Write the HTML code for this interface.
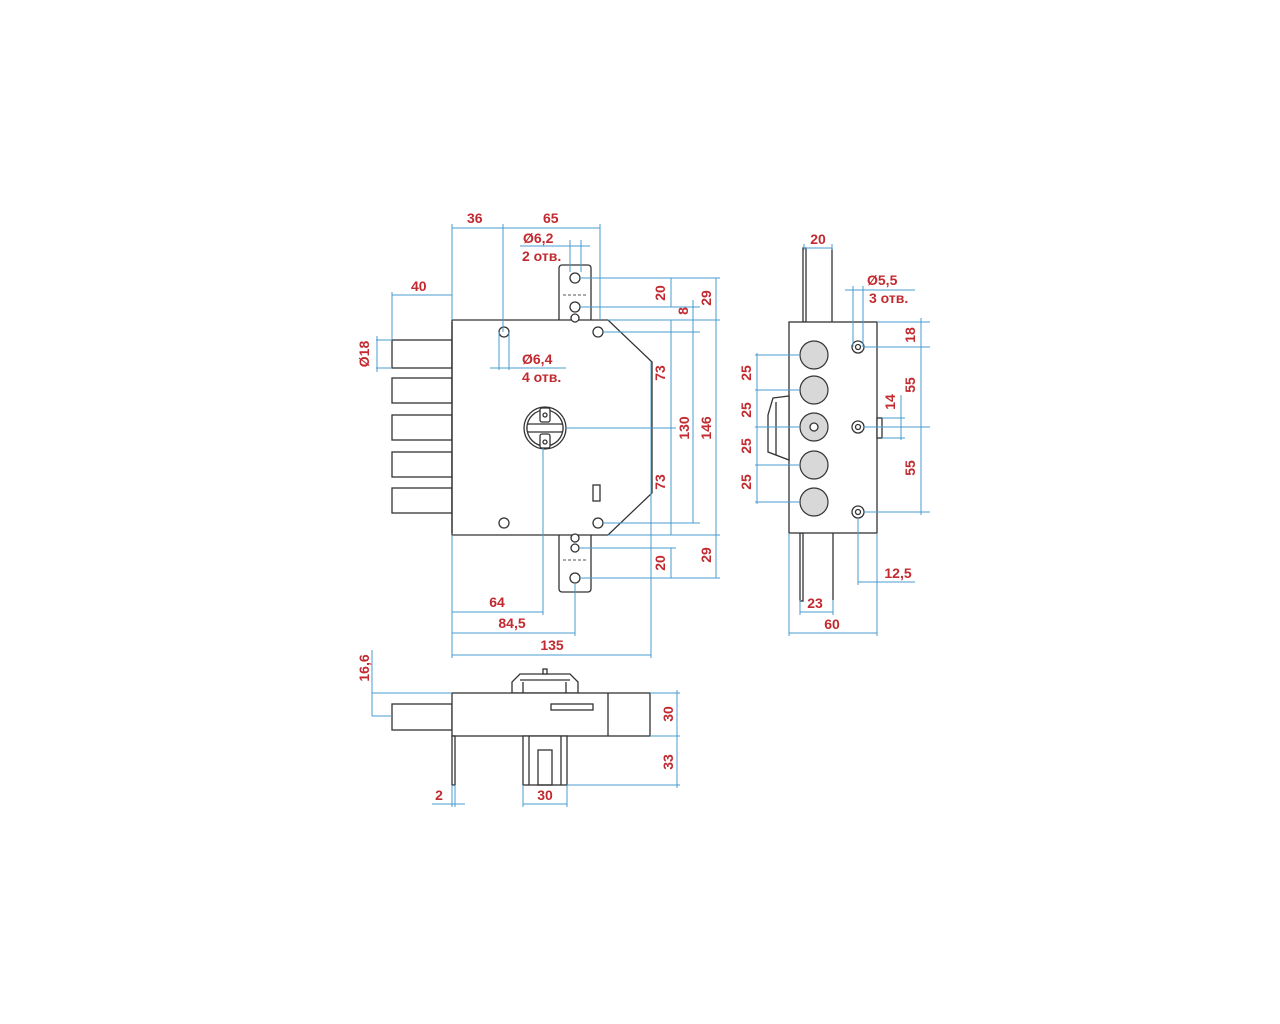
<!DOCTYPE html>
<html><head><meta charset="utf-8"><style>
html,body{margin:0;padding:0;background:#fff;}
svg{display:block}
text{font-family:"Liberation Sans",sans-serif;font-weight:bold;font-size:14px;fill:#c22a30;}
.b{stroke:#4a9bd0;stroke-width:1;fill:none}
.k{stroke:#333;stroke-width:1.3;fill:#fff}
.kn{stroke:#333;stroke-width:1.3;fill:none}
.g{stroke:#333;stroke-width:1.2;fill:#d8d8d8}
</style></head><body>
<svg width="1280" height="1024" viewBox="0 0 1280 1024" xmlns="http://www.w3.org/2000/svg">
<!-- MAIN VIEW -->
<!-- bolts -->
<rect class="k" x="392" y="340" width="60" height="28"/>
<rect class="k" x="392" y="378" width="60" height="25"/>
<rect class="k" x="392" y="415" width="60" height="25"/>
<rect class="k" x="392" y="452" width="60" height="25"/>
<rect class="k" x="392" y="488" width="60" height="25"/>
<!-- plates -->
<rect class="k" x="559" y="265" width="32" height="60" rx="3"/>
<rect class="k" x="559" y="530" width="32" height="62" rx="3"/>
<!-- body -->
<polygon class="k" points="452,320 608,320 652,362 652,493 608,535 452,535"/>
<line class="kn" x1="452" y1="322" x2="452" y2="533" stroke-width="2.5"/>
<circle class="k" cx="575" cy="278" r="5"/>
<circle class="k" cx="575" cy="307" r="5"/>
<circle class="k" cx="575" cy="318" r="4"/>
<line x1="563" y1="295" x2="588" y2="295" stroke="#555" stroke-dasharray="3,2"/>
<circle class="k" cx="575" cy="578" r="5"/>
<circle class="k" cx="575" cy="548" r="4" stroke="#4a9bd0"/>
<circle class="k" cx="575" cy="538" r="4"/>
<line x1="563" y1="560" x2="588" y2="560" stroke="#555" stroke-dasharray="3,2"/>
<circle class="k" cx="504" cy="332" r="5"/>
<circle class="k" cx="598" cy="332" r="5"/>
<circle class="k" cx="504" cy="523" r="5"/>
<circle class="k" cx="598" cy="523" r="5"/>
<rect class="k" x="593" y="485" width="7" height="16"/>
<!-- cylinder -->
<circle class="k" cx="545" cy="428" r="21"/>
<circle class="kn" cx="545" cy="428" r="18"/>
<rect class="k" x="527" y="424" width="36" height="8" rx="2"/>
<rect class="k" x="540" y="408" width="10" height="14" rx="2"/>
<rect class="k" x="540" y="434" width="10" height="14" rx="2"/>
<circle class="k" cx="545" cy="415" r="2"/>
<circle class="k" cx="545" cy="442" r="2"/>
<!-- main dims -->
<g class="b">
<line x1="452" y1="224" x2="452" y2="320"/><line x1="503" y1="224" x2="503" y2="332"/><line x1="600" y1="224" x2="600" y2="320"/>
<line x1="452" y1="228" x2="600" y2="228"/>
<line x1="520" y1="246" x2="590" y2="246"/><line x1="570" y1="240" x2="570" y2="272"/><line x1="581" y1="240" x2="581" y2="272"/>
<line x1="392" y1="295" x2="452" y2="295"/><line x1="392" y1="292" x2="392" y2="340"/>
<line x1="376" y1="340" x2="392" y2="340"/><line x1="376" y1="368" x2="392" y2="368"/><line x1="377" y1="336" x2="377" y2="372"/>
<line x1="490" y1="368" x2="566" y2="368"/><line x1="499" y1="332" x2="499" y2="370"/><line x1="509" y1="332" x2="509" y2="370"/>
<line x1="580" y1="278" x2="720" y2="278"/><line x1="580" y1="307" x2="700" y2="307"/>
<line x1="608" y1="320" x2="720" y2="320"/><line x1="603" y1="332" x2="700" y2="332"/>
<line x1="566" y1="428" x2="676" y2="428"/>
<line x1="603" y1="523" x2="700" y2="523"/><line x1="608" y1="535" x2="720" y2="535"/>
<line x1="580" y1="548" x2="676" y2="548"/><line x1="580" y1="578" x2="720" y2="578"/>
<line x1="671" y1="278" x2="671" y2="307"/><line x1="671" y1="320" x2="671" y2="535"/><line x1="671" y1="548" x2="671" y2="578"/>
<line x1="693" y1="300" x2="693" y2="523"/>
<line x1="716" y1="278" x2="716" y2="578"/>
<line x1="543" y1="448" x2="543" y2="615"/><line x1="575" y1="584" x2="575" y2="636"/><line x1="651" y1="362" x2="651" y2="658"/>
<line x1="452" y1="535" x2="452" y2="658"/>
<line x1="452" y1="612" x2="543" y2="612"/><line x1="452" y1="633" x2="575" y2="633"/><line x1="452" y1="655" x2="651" y2="655"/>
</g>
<text x="467" y="223">36</text><text x="543" y="223">65</text>
<text x="523" y="243">Ø6,2</text><text x="522" y="261" font-size="12">2 отв.</text>
<text x="411" y="291">40</text>
<text x="522" y="364">Ø6,4</text><text x="522" y="382" font-size="12">4 отв.</text>
<text x="497" y="607" text-anchor="middle">64</text>
<text x="512" y="628" text-anchor="middle">84,5</text>
<text x="552" y="650" text-anchor="middle">135</text>
<g>
<text transform="translate(369,354) rotate(-90)" text-anchor="middle">Ø18</text>
<text transform="translate(665,293) rotate(-90)" text-anchor="middle">20</text>
<text transform="translate(688,311) rotate(-90)" text-anchor="middle">8</text>
<text transform="translate(711,298) rotate(-90)" text-anchor="middle">29</text>
<text transform="translate(665,373) rotate(-90)" text-anchor="middle">73</text>
<text transform="translate(689,428) rotate(-90)" text-anchor="middle">130</text>
<text transform="translate(711,428) rotate(-90)" text-anchor="middle">146</text>
<text transform="translate(665,482) rotate(-90)" text-anchor="middle">73</text>
<text transform="translate(711,555) rotate(-90)" text-anchor="middle">29</text>
<text transform="translate(665,563) rotate(-90)" text-anchor="middle">20</text>
</g>

<!-- SIDE VIEW -->
<rect class="k" x="803" y="248" width="3" height="74"/>
<line class="kn" x1="832" y1="248" x2="832" y2="322"/>
<rect class="k" x="800" y="533" width="3" height="68"/>
<line class="kn" x1="833" y1="533" x2="833" y2="600"/>
<rect class="k" x="789" y="322" width="88" height="211"/>
<polygon class="k" points="773,398 789,396 789,460 768,452 768,415"/>
<line class="kn" x1="776" y1="402" x2="776" y2="455"/>
<rect class="k" x="877" y="418" width="5" height="20"/>
<circle class="g" cx="814" cy="355" r="14"/>
<circle class="g" cx="814" cy="390" r="14"/>
<circle class="g" cx="814" cy="427" r="14"/>
<circle class="k" cx="814" cy="427" r="4"/>
<circle class="g" cx="814" cy="465" r="14"/>
<circle class="g" cx="814" cy="502" r="14"/>
<circle class="k" cx="858" cy="347" r="6"/><circle class="k" cx="858" cy="347" r="2.5"/>
<circle class="k" cx="858" cy="427" r="6"/><circle class="k" cx="858" cy="427" r="2.5"/>
<circle class="k" cx="858" cy="512" r="6"/><circle class="k" cx="858" cy="512" r="2.5"/>
<g class="b">
<line x1="804" y1="244" x2="804" y2="250"/><line x1="832" y1="244" x2="832" y2="250"/><line x1="804" y1="248" x2="832" y2="248"/>
<line x1="845" y1="290" x2="915" y2="290"/><line x1="853" y1="286" x2="853" y2="347"/><line x1="863" y1="286" x2="863" y2="347"/>
<line x1="877" y1="322" x2="930" y2="322"/><line x1="863" y1="347" x2="930" y2="347"/>
<line x1="863" y1="427" x2="930" y2="427"/><line x1="863" y1="512" x2="930" y2="512"/>
<line x1="921" y1="318" x2="921" y2="515"/>
<line x1="882" y1="418" x2="905" y2="418"/><line x1="882" y1="438" x2="905" y2="438"/><line x1="901" y1="395" x2="901" y2="440"/>
<line x1="755" y1="355" x2="800" y2="355"/><line x1="755" y1="390" x2="800" y2="390"/><line x1="755" y1="427" x2="800" y2="427"/><line x1="755" y1="465" x2="800" y2="465"/><line x1="755" y1="502" x2="800" y2="502"/>
<line x1="757" y1="353" x2="757" y2="504"/>
<line x1="858" y1="518" x2="858" y2="585"/><line x1="858" y1="582" x2="915" y2="582"/>
<line x1="800" y1="600" x2="800" y2="615"/><line x1="833" y1="600" x2="833" y2="615"/><line x1="800" y1="612" x2="833" y2="612"/>
<line x1="789" y1="533" x2="789" y2="636"/><line x1="877" y1="533" x2="877" y2="636"/><line x1="789" y1="633" x2="877" y2="633"/>
</g>
<text x="818" y="244" text-anchor="middle">20</text>
<text x="867" y="285">Ø5,5</text><text x="869" y="303" font-size="12">3 отв.</text>
<text x="898" y="578" text-anchor="middle">12,5</text>
<text x="815" y="608" text-anchor="middle">23</text>
<text x="832" y="629" text-anchor="middle">60</text>
<text transform="translate(915,335) rotate(-90)" text-anchor="middle">18</text>
<text transform="translate(915,385) rotate(-90)" text-anchor="middle">55</text>
<text transform="translate(915,468) rotate(-90)" text-anchor="middle">55</text>
<text transform="translate(895,402) rotate(-90)" text-anchor="middle">14</text>
<text transform="translate(751,373) rotate(-90)" text-anchor="middle">25</text>
<text transform="translate(751,410) rotate(-90)" text-anchor="middle">25</text>
<text transform="translate(751,446) rotate(-90)" text-anchor="middle">25</text>
<text transform="translate(751,482) rotate(-90)" text-anchor="middle">25</text>

<!-- BOTTOM VIEW -->
<rect class="k" x="392" y="704" width="60" height="26"/>
<polygon class="k" points="512,693 512,682 520,674 570,674 578,682 578,693"/>
<line class="kn" x1="520" y1="680" x2="570" y2="680"/>
<line class="kn" x1="523" y1="693" x2="523" y2="682"/><line class="kn" x1="566" y1="693" x2="566" y2="682"/>
<rect class="k" x="543" y="669" width="4" height="5"/>
<rect class="k" x="452" y="693" width="198" height="43"/>
<line class="kn" x1="608" y1="693" x2="608" y2="736"/>
<rect class="k" x="551" y="704" width="42" height="6"/>
<rect class="k" x="452" y="736" width="3" height="49"/>
<rect class="k" x="523" y="736" width="44" height="49"/>
<line class="kn" x1="529" y1="736" x2="529" y2="785"/><line class="kn" x1="561" y1="736" x2="561" y2="785"/>
<rect class="kn" x="538" y="750" width="14" height="35"/>
<g class="b">
<line x1="372" y1="650" x2="372" y2="716"/><line x1="372" y1="693" x2="452" y2="693"/><line x1="372" y1="716" x2="392" y2="716"/>
<line x1="650" y1="693" x2="680" y2="693"/><line x1="650" y1="736" x2="680" y2="736"/><line x1="567" y1="785" x2="680" y2="785"/>
<line x1="677" y1="690" x2="677" y2="788"/>
<line x1="432" y1="804" x2="465" y2="804"/><line x1="452" y1="785" x2="452" y2="807"/><line x1="455" y1="785" x2="455" y2="807"/>
<line x1="523" y1="785" x2="523" y2="807"/><line x1="567" y1="785" x2="567" y2="807"/><line x1="523" y1="804" x2="567" y2="804"/>
</g>
<text transform="translate(369,668) rotate(-90)" text-anchor="middle">16,6</text>
<text transform="translate(673,714) rotate(-90)" text-anchor="middle">30</text>
<text transform="translate(673,762) rotate(-90)" text-anchor="middle">33</text>
<text x="439" y="800" text-anchor="middle">2</text>
<text x="545" y="800" text-anchor="middle">30</text>
</svg>
</body></html>
